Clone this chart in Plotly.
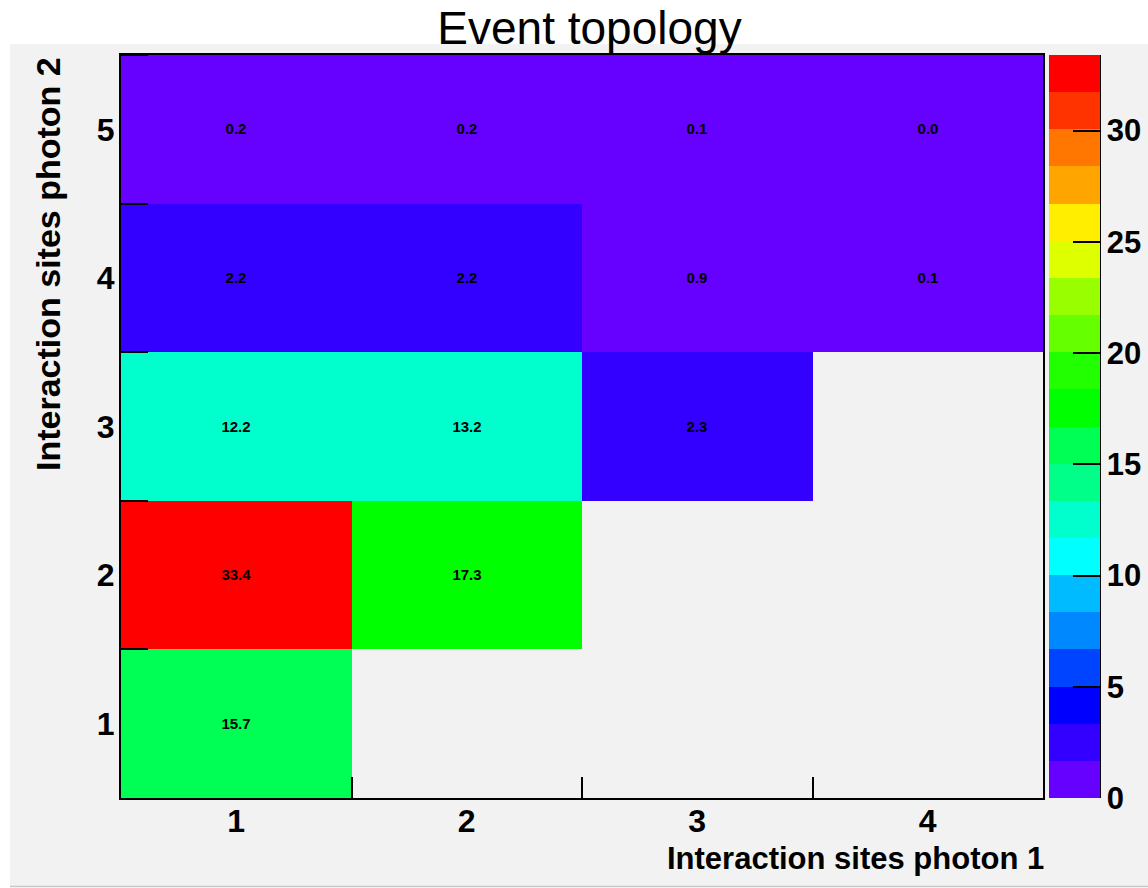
import plotly.graph_objects as go

# Interaction multiplicity of the two photons (percent of events)
photon1_sites = [1, 2, 3, 4]
photon2_sites = [1, 2, 3, 4, 5]
tick_labels_x = ["1", "2", "3", "4"]
tick_labels_y = ["1", "2", "3", "4", "5"]

# rows: photon 2 sites 1..5, columns: photon 1 sites 1..4
row_1 = [15.7, None, None, None]
row_2 = [33.4, 17.3, None, None]
row_3 = [12.2, 13.2, 2.3, None]
row_4 = [2.2, 2.2, 0.9, 0.1]
row_5 = [0.2, 0.2, 0.1, 0.0]
z_values = [row_1, row_2, row_3, row_4, row_5]

colorbar_ticks = [0, 5, 10, 15, 20, 25, 30]

# 20-level rainbow palette, lowest level first
palette = [
    "#6600ff", "#3300ff", "#0000ff", "#0044ff", "#0088ff",
    "#00bbff", "#00ffff", "#00ffcc", "#00ff88", "#00ff55",
    "#00ff00", "#22ff00", "#66ff00", "#99ff00", "#ddff00",
    "#ffee00", "#ffa500", "#ff7700", "#ff3300", "#ff0000",
]
n = len(palette)
colorscale = []
for i, c in enumerate(palette):
    colorscale.append([i / n, c])
    colorscale.append([(i + 1) / n, c])

zmax = max(v for row in z_values for v in row if v is not None)
cell_text = [["" if v is None else f"{v:.1f}" for v in row] for row in z_values]

W, H = 1148, 888
L, R, T, B = 121, 105, 55, 90
pw, ph = W - L - R, H - T - B


def px_x(x):
    return (x - L) / pw


def px_y(y):
    return (H - B - y) / ph


BG = "#f2f2f2"
BOLD = "Liberation Sans, Arial, sans-serif"

fig = go.Figure()
fig.add_trace(go.Heatmap(
    x=photon1_sites,
    y=photon2_sites,
    z=z_values,
    text=cell_text,
    texttemplate="%{text}",
    textfont=dict(family=BOLD, size=15, color="black", weight="bold"),
    colorscale=colorscale,
    zmin=0,
    zmax=zmax,
    hoverongaps=False,
    colorbar=dict(
        x=px_x(1049), xanchor="left", xpad=0,
        y=0, yanchor="bottom", len=1, lenmode="fraction", ypad=0,
        thickness=51, thicknessmode="pixels",
        outlinewidth=0,
        tickmode="array", tickvals=colorbar_ticks,
        ticktext=[str(t) for t in colorbar_ticks],
        ticks="inside", ticklen=27, tickwidth=2, tickcolor="black",
        tickfont=dict(family=BOLD, size=31, color="black", weight="bold"),
        ticklabelposition="outside",
    ),
))

fig.update_xaxes(
    range=[0.5, 4.5],
    tickmode="array", tickvals=photon1_sites, ticktext=tick_labels_x,
    ticks="", showgrid=False, zeroline=False,
    showline=True, linecolor="black", linewidth=2, mirror=True,
    tickfont=dict(family=BOLD, size=32, color="black", weight="bold"),
    ticklabelstandoff=-6,
    minor=dict(tickmode="array", tickvals=[1.5, 2.5, 3.5],
               ticks="inside", ticklen=21, tickwidth=1.5, tickcolor="black",
               showgrid=False),
)
fig.update_yaxes(
    range=[0.5, 5.5],
    tickmode="array", tickvals=photon2_sites, ticktext=tick_labels_y,
    ticks="", showgrid=False, zeroline=False,
    showline=True, linecolor="black", linewidth=2, mirror=True,
    tickfont=dict(family=BOLD, size=32, color="black", weight="bold"),
    ticklabelstandoff=-2,
    minor=dict(tickmode="array", tickvals=[1.5, 2.5, 3.5, 4.5, 5.5],
               ticks="inside", ticklen=27, tickwidth=1.5, tickcolor="black",
               showgrid=False),
)

shapes = [
    # grey canvas pad
    dict(type="rect", xref="paper", yref="paper", layer="below",
         x0=px_x(10), x1=px_x(W + 5), y0=px_y(886), y1=px_y(44),
         fillcolor=BG, line=dict(width=0)),
    dict(type="line", xref="paper", yref="paper",
         x0=px_x(10), x1=px_x(W + 5), y0=px_y(886.5), y1=px_y(886.5),
         line=dict(color="#c8c8c8", width=1.5)),
    # colour axis line
    dict(type="line", xref="paper", yref="paper",
         x0=px_x(1100), x1=px_x(1100), y0=0, y1=1,
         line=dict(color="black", width=2)),
]

annotations = [
    dict(text="Interaction sites photon 1", xref="paper", yref="paper",
         x=px_x(1046), y=px_y(858), xanchor="right", yanchor="middle",
         showarrow=False,
         font=dict(family=BOLD, size=31, color="black", weight="bold")),
    dict(text="Interaction sites photon 2", xref="paper", yref="paper",
         x=px_x(48), y=px_y(55), xanchor="center", yanchor="top",
         textangle=-90, showarrow=False,
         font=dict(family=BOLD, size=34, color="black", weight="bold")),
]

fig.update_layout(
    width=W, height=H,
    margin=dict(l=L, r=R, t=T, b=B, pad=0, autoexpand=False),
    paper_bgcolor="white",
    plot_bgcolor=BG,
    title=dict(text="Event topology", x=589.5 / W, xanchor="center",
               y=1 - 28 / H, yanchor="middle",
               font=dict(family="Liberation Sans, Arial, sans-serif",
                         size=46, color="black")),
    shapes=shapes,
    annotations=annotations,
    showlegend=False,
)

fig.write_html("out.html")
